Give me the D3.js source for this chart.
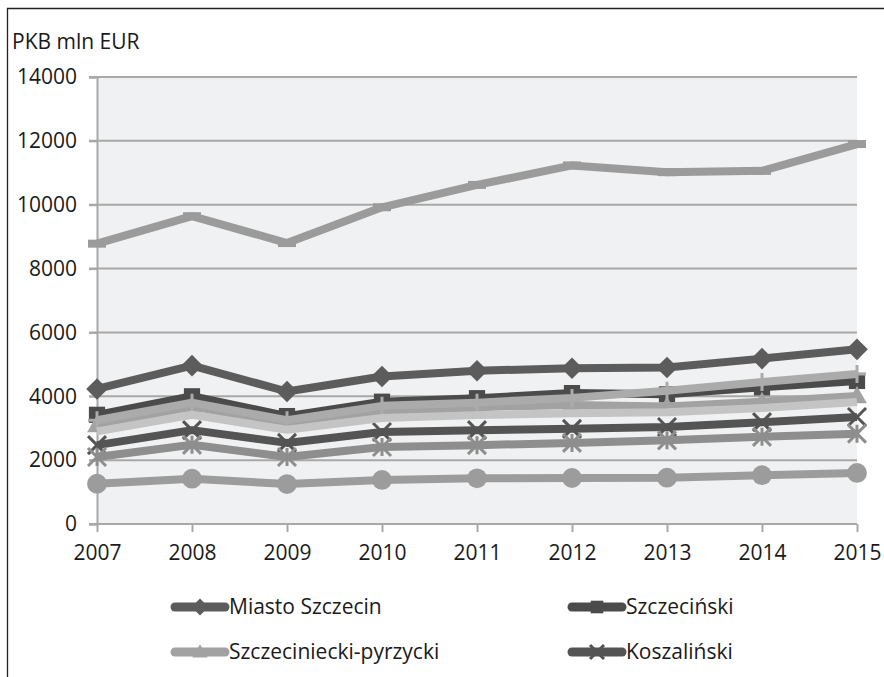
<!DOCTYPE html>
<html>
<head>
<meta charset="utf-8">
<script src="https://cdn.jsdelivr.net/npm/d3@7"></script>
<style>
  body { margin: 0; background: #fff; }
  text { font-family: "Open Sans", sans-serif; fill: #1a1a1a; }
</style>
</head>
<body>
<script>
// years on the x axis
const years = ["2007", "2008", "2009", "2010", "2011", "2012", "2013", "2014", "2015"];
const yTicks = [0, 2000, 4000, 6000, 8000, 10000, 12000, 14000];

// values (mln EUR)
const miastoSzczecin = [4230, 4960, 4150, 4620, 4800, 4880, 4900, 5180, 5470];
const szczecinski = [3420, 4000, 3380, 3830, 3940, 4100, 4060, 4280, 4480];
const szczecinieckiPyrzycki = [3100, 3680, 3150, 3510, 3660, 3730, 3680, 3830, 4010];
const koszalinski = [2470, 2940, 2540, 2880, 2940, 2980, 3040, 3190, 3350];
const seria5 = [2100, 2480, 2100, 2410, 2470, 2540, 2620, 2730, 2830];
const seria6 = [1260, 1420, 1250, 1380, 1430, 1440, 1450, 1530, 1600];
const seria7 = [3250, 3800, 3250, 3700, 3800, 3950, 4170, 4450, 4700];
const seria8 = [2900, 3420, 2950, 3320, 3410, 3470, 3500, 3630, 3820];
const seria9 = [8780, 9640, 8800, 9920, 10620, 11230, 11020, 11060, 11900];

const series = [
  { name: "Miasto Szczecin", values: miastoSzczecin, color: "#5c5c5c", marker: "diamond", legend: true },
  { name: "Szczeciński", values: szczecinski, color: "#4b4b4b", marker: "square", legend: true },
  { name: "Szczeciniecki-pyrzycki", values: szczecinieckiPyrzycki, color: "#a2a2a2", marker: "triangle", legend: true },
  { name: "Koszaliński", values: koszalinski, color: "#545454", marker: "x", legend: true },
  { name: "Seria 5", values: seria5, color: "#8e8e8e", marker: "star", legend: false },
  { name: "Seria 6", values: seria6, color: "#9c9c9c", marker: "circle", legend: false },
  { name: "Seria 7", values: seria7, color: "#ababab", marker: "plus", legend: false },
  { name: "Seria 8", values: seria8, color: "#c4c4c4", marker: "none", legend: false },
  { name: "Seria 9", values: seria9, color: "#9b9b9b", marker: "dash", legend: false }
];

const width = 884, height = 677;
const svg = d3.select("body").append("svg")
  .attr("width", width)
  .attr("height", height);

// outer frame (cut at right and bottom)
svg.append("path")
  .attr("d", "M7.5,700 V8.5 H900")
  .attr("fill", "none")
  .attr("stroke", "#222")
  .attr("stroke-width", 1.3);

const x = d3.scalePoint().domain(years).range([97, 857]);
const y = d3.scaleLinear().domain([0, 14000]).range([524, 77]);

// plot background
svg.append("rect")
  .attr("x", x("2007"))
  .attr("y", y(14000))
  .attr("width", x("2015") - x("2007"))
  .attr("height", y(0) - y(14000))
  .attr("fill", "#f0f1f2");

// grid lines
svg.append("g")
  .selectAll("line")
  .data(yTicks)
  .enter()
  .append("line")
  .attr("x1", x("2007") - 8)
  .attr("x2", x("2015"))
  .attr("y1", (d) => y(d))
  .attr("y2", (d) => y(d))
  .attr("stroke", "#a8a8a8")
  .attr("stroke-width", 2);

// y axis
const yAxis = svg.append("g")
  .attr("transform", `translate(${x("2007")},0)`)
  .call(d3.axisLeft(y).tickValues(yTicks).tickSize(8).tickPadding(12).tickFormat(d3.format("d")));
yAxis.select(".domain").attr("stroke", "#a8a8a8").attr("stroke-width", 2);
yAxis.selectAll(".tick line").attr("stroke", "#a8a8a8").attr("stroke-width", 2);
yAxis.selectAll(".tick text").style("font-size", "21px").attr("fill", "#1a1a1a");

// x axis
const xAxis = svg.append("g")
  .attr("transform", `translate(0,${y(0)})`)
  .call(d3.axisBottom(x).tickSize(8).tickPadding(13));
xAxis.select(".domain").attr("stroke", "#a8a8a8").attr("stroke-width", 2).attr("d", `M${x("2007")},0H${x("2015")}`);
xAxis.selectAll(".tick line").attr("stroke", "#a8a8a8").attr("stroke-width", 2);
xAxis.selectAll(".tick text").style("font-size", "21px").attr("fill", "#1a1a1a");

// axis title
svg.append("text")
  .attr("x", 12)
  .attr("y", 49)
  .style("font-size", "21px")
  .text("PKB mln EUR");

// marker drawing helper
function drawMarker(g, type, cx, cy, color, s) {
  if (type === "diamond") {
    g.append("path")
      .attr("d", `M${cx},${cy - s * 1.2}L${cx + s * 1.2},${cy}L${cx},${cy + s * 1.2}L${cx - s * 1.2},${cy}Z`)
      .attr("fill", color);
  } else if (type === "square") {
    g.append("rect")
      .attr("x", cx - s * 0.9).attr("y", cy - s * 0.9)
      .attr("width", s * 1.8).attr("height", s * 1.8)
      .attr("fill", color);
  } else if (type === "triangle") {
    g.append("path")
      .attr("d", `M${cx},${cy - s * 1.1}L${cx + s * 1.1},${cy + s * 0.8}L${cx - s * 1.1},${cy + s * 0.8}Z`)
      .attr("fill", color);
  } else if (type === "circle") {
    g.append("circle")
      .attr("cx", cx).attr("cy", cy).attr("r", s * 1.1)
      .attr("fill", color);
  } else if (type === "x" || type === "star" || type === "plus") {
    let d = "";
    if (type !== "plus") d += `M${cx - s},${cy - s}L${cx + s},${cy + s}M${cx - s},${cy + s}L${cx + s},${cy - s}`;
    if (type !== "x") d += `M${cx},${cy - s}L${cx},${cy + s}`;
    if (type === "plus") d += `M${cx - s},${cy}L${cx + s},${cy}`;
    g.append("path")
      .attr("d", d)
      .attr("stroke", color)
      .attr("stroke-width", 3)
      .attr("fill", "none");
  } else if (type === "dash") {
    g.append("rect")
      .attr("x", cx - s).attr("y", cy - 4)
      .attr("width", s * 2).attr("height", 8)
      .attr("fill", color);
  }
}

const line = d3.line()
  .x((d, i) => x(years[i]))
  .y((d) => y(d));

// series lines with markers
series.forEach((s) => {
  const g = svg.append("g");
  g.append("path")
    .datum(s.values)
    .attr("d", line)
    .attr("fill", "none")
    .attr("stroke", s.color)
    .attr("stroke-width", 8)
    .attr("stroke-linejoin", "round");
  s.values.forEach((v, i) => {
    drawMarker(g, s.marker, x(years[i]), y(v), s.color, 9);
  });
});

// legend (only the first four entries are visible)
const legendPos = [
  { lx: 172, ty: 607 },
  { lx: 569, ty: 607 },
  { lx: 172, ty: 652 },
  { lx: 569, ty: 652 }
];
series.filter((s) => s.legend).forEach((s, i) => {
  const p = legendPos[i];
  const g = svg.append("g");
  g.append("line")
    .attr("x1", p.lx + 3).attr("x2", p.lx + 53)
    .attr("y1", p.ty).attr("y2", p.ty)
    .attr("stroke", s.color)
    .attr("stroke-width", 9)
    .attr("stroke-linecap", "round");
  drawMarker(g, s.marker, p.lx + 28, p.ty, s.color, 7);
  g.append("text")
    .attr("x", p.lx + 57)
    .attr("y", p.ty)
    .attr("dy", "0.35em")
    .style("font-size", "21px")
    .text(s.name);
});
</script>
</body>
</html>
